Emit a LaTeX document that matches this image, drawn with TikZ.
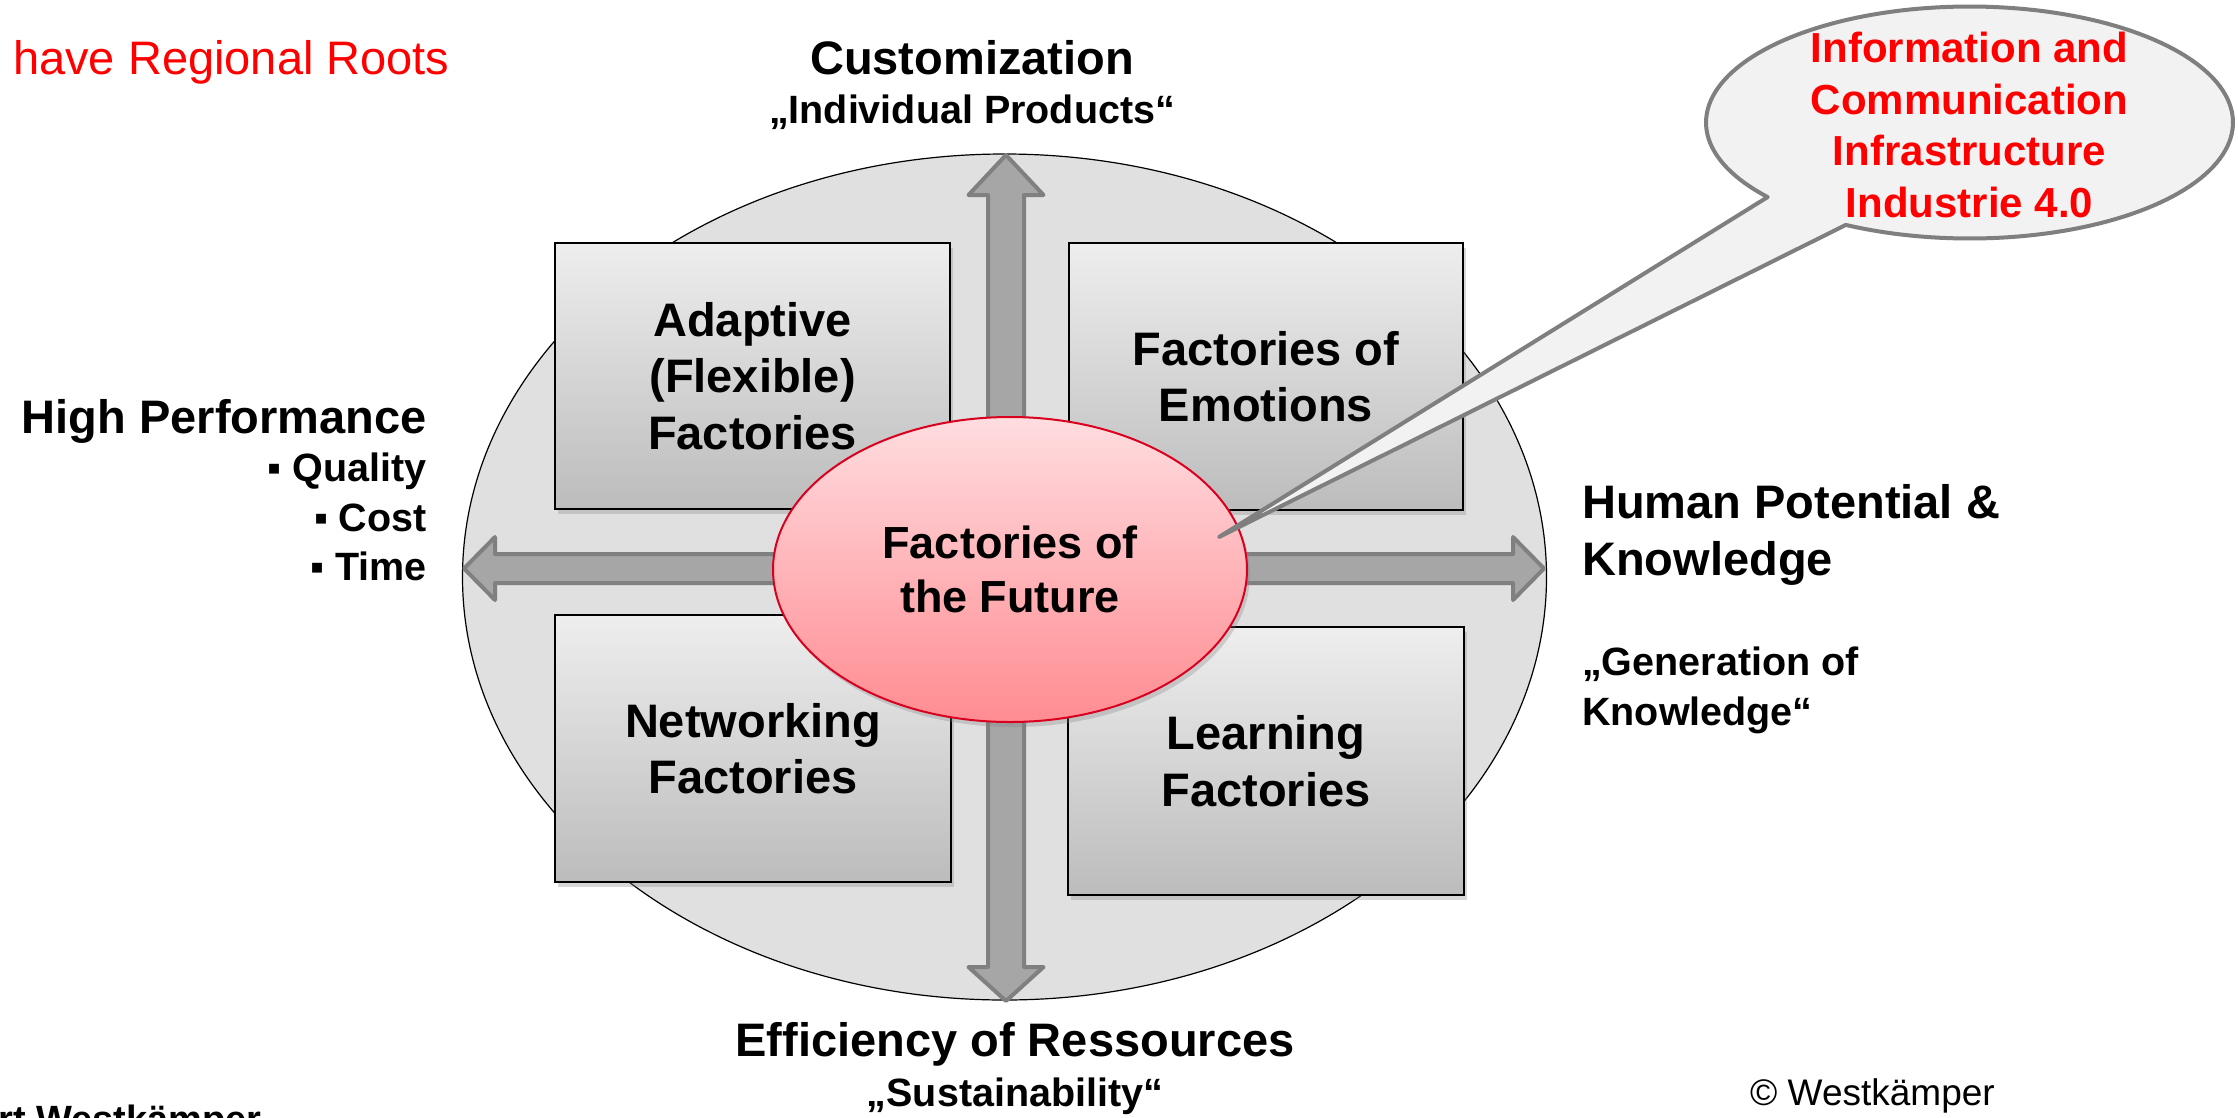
\documentclass[tikz,border=0pt]{standalone}
\usepackage{fontspec}
\setmainfont{Liberation Sans}
\usetikzlibrary{shapes.geometric,shadows}
\definecolor{bgell}{HTML}{E0E0E0}
\definecolor{arrowfill}{HTML}{A6A6A6}
\definecolor{arrowline}{HTML}{808080}
\definecolor{boxtop}{HTML}{EEEEEE}
\definecolor{boxbot}{HTML}{BCBCBC}
\definecolor{futtop}{HTML}{FFDDE0}
\definecolor{futbot}{HTML}{FF8C92}
\definecolor{futline}{HTML}{D8001E}
\definecolor{callfill}{HTML}{F2F2F2}
\definecolor{callline}{HTML}{7F7F7F}
\definecolor{redtxt}{HTML}{FF0000}
\begin{document}
\begin{tikzpicture}[x=1pt,y=-1pt,
  frame/.style={ellipse, draw=black, line width=1.2pt, fill=bgell, minimum width=1084, minimum height=846, inner sep=0},
  bigarrow/.style={fill=arrowfill, draw=arrowline, line width=4pt, line join=round},
  factbox/.style={rectangle, draw=black, line width=2.5pt, top color=boxtop, bottom color=boxbot,
    inner sep=0, align=center, font=\bfseries\fontsize{47}{56.5}\selectfont,
    drop shadow={shadow xshift=3pt, shadow yshift=-5pt, opacity=0.3}},
  futell/.style={ellipse, draw=futline, line width=2pt, top color=futtop, bottom color=futbot,
    minimum width=474, minimum height=305, inner sep=0, align=center,
    font=\bfseries\fontsize{45}{54}\selectfont,
    drop shadow={shadow xshift=3pt, shadow yshift=-5pt, opacity=0.3}},
  callout/.style={fill=callfill, draw=callline, line width=4pt, line join=round},
  calltext/.style={inner sep=0, align=center, text=redtxt, font=\bfseries\fontsize{42}{51.5}\selectfont},
  lbl/.style={inner sep=0, font=\bfseries\fontsize{47}{57}\selectfont},
  sublbl/.style={inner sep=0, font=\bfseries\fontsize{39.5}{50}\selectfont},
  plain/.style={inner sep=0, font=\fontsize{47}{57}\selectfont}
]
\useasboundingbox (0,0) rectangle (2238,1117);
\fill[white] (0,0) rectangle (2238,1117);

% outer ellipse
\node[frame] (frame) at (1004.5,577) {};

% arrows
\draw[bigarrow] (464,568.5) -- (495,537) -- (495,554) -- (1513,554) -- (1513,537) -- (1544,568.5)
  -- (1513,600) -- (1513,583) -- (495,583) -- (495,600) -- cycle;
\draw[bigarrow] (1006,155) -- (1043.5,195) -- (1024,195) -- (1024,967) -- (1043.5,967) -- (1006,1001)
  -- (968.5,967) -- (988,967) -- (988,195) -- (968.5,195) -- cycle;

% boxes
\node[factbox, minimum width=395, minimum height=266] (adaptive) at (752.5,376) {Adaptive\\(Flexible)\\Factories};
\node[factbox, minimum width=394, minimum height=267] (emotions) at (1266,376.5) {Factories of\\Emotions};
\node[factbox, minimum width=396, minimum height=267] (networking) at (753,748.5) {Networking\\Factories};
\node[factbox, minimum width=396, minimum height=268] (learning) at (1266,761) {Learning\\Factories};

% centre
\node[futell] (future) at (1010,569.5) {Factories of\\the Future};

% callout
\coordinate (tip) at (1219,537);
\draw[callout] ({1969.5+263.5*cos(220)},{122.5-116*sin(220)}) -- (tip)
  -- plot[domain=242:580, samples=160] ({1969.5+263.5*cos(\x)},{122.5-116*sin(\x)}) -- cycle;
\node[calltext] (ict) at (1969.5,125) {Information and\\Communication\\Infrastructure\\Industrie 4.0};

% labels
\node[plain, anchor=base west, text=redtxt] (roots) at (13,74) {have Regional Roots};
\node[lbl, anchor=base] (cust) at (972,74) {Customization};
\node[sublbl, anchor=base] (custsub) at (972,123) {„Individual Products“};

\node[lbl, anchor=base east] (perf) at (427,433) {High Performance};
\node[sublbl, anchor=base east] (quality) at (427,481) {▪ Quality};
\node[sublbl, anchor=base east] (cost) at (427,531) {▪ Cost};
\node[sublbl, anchor=base east] (time) at (427,580) {▪ Time};

\node[lbl, anchor=base west] (human1) at (1582,518) {Human Potential \&};
\node[lbl, anchor=base west] (human2) at (1582,575) {Knowledge};
\node[sublbl, anchor=base west] (gen1) at (1582,675) {„Generation of};
\node[sublbl, anchor=base west] (gen2) at (1582,725) {Knowledge“};

\node[lbl, anchor=base] (eff) at (1015,1056) {Efficiency of Ressources};
\node[sublbl, anchor=base] (sust) at (1015,1106) {„Sustainability“};

\node[inner sep=0, anchor=base west, font=\fontsize{37}{44}\selectfont] (copy) at (1750,1105) {© Westkämper};
\node[inner sep=0, anchor=base east, font=\bfseries\fontsize{38}{44}\selectfont] (author) at (262,1132) {rt Westkämper};
\end{tikzpicture}
\end{document}
